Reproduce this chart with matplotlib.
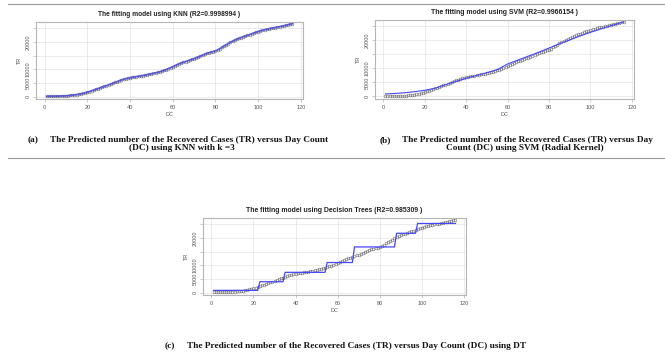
import numpy as np
import matplotlib
matplotlib.use("Agg")
import matplotlib.pyplot as plt
from matplotlib.lines import Line2D

# ---------------- data ----------------
dc = list(range(1, 117))
tr_actual = [60, 80, 90, 100, 110, 130, 150, 180, 220, 260,
             320, 390, 470, 560, 680, 820, 980, 1150, 1350, 1580,
             1820, 2080, 2350, 2620, 2900, 3180, 3450, 3720, 3980, 4250,
             4560, 4870, 5150, 5450, 5780, 6050, 6300, 6520, 6720, 6880,
             7010, 7140, 7280, 7420, 7560, 7700, 7850, 8000, 8150, 8320,
             8480, 8650, 8850, 9080, 9330, 9600, 9900, 10230, 10560, 10900,
             11280, 11650, 12000, 12300, 12580, 12830, 13080, 13330, 13600, 13900,
             14200, 14500, 14830, 15180, 15500, 15800, 16050, 16280, 16480, 16700,
             17050, 17500, 18000, 18480, 18950, 19400, 19850, 20250, 20650, 21000,
             21300, 21600, 21880, 22150, 22420, 22700, 22980, 23250, 23550, 23820,
             24050, 24250, 24450, 24630, 24800, 24970, 25130, 25280, 25430, 25580,
             25750, 25920, 26100, 26300, 26520, 26750]

knn_pred = [70, 80, 95, 100, 115, 130, 155, 185, 220, 265,
            320, 395, 470, 565, 685, 820, 985, 1155, 1360, 1585,
            1820, 2085, 2350, 2625, 2900, 3185, 3450, 3725, 3985, 4255,
            4560, 4865, 5155, 5460, 5770, 6050, 6295, 6515, 6715, 6875,
            7010, 7145, 7280, 7420, 7560, 7705, 7850, 8000, 8155, 8320,
            8485, 8655, 8860, 9085, 9335, 9605, 9905, 10235, 10565, 10905,
            11275, 11645, 11995, 12295, 12575, 12825, 13075, 13325, 13595, 13895,
            14195, 14500, 14830, 15175, 15495, 15795, 16045, 16275, 16475, 16705,
            17055, 17505, 18005, 18485, 18950, 19405, 19850, 20255, 20650, 20995,
            21295, 21595, 21875, 22145, 22420, 22695, 22975, 23245, 23545, 23815,
            24045, 24245, 24445, 24625, 24795, 24965, 25125, 25275, 25425, 25575,
            25745, 25915, 26095, 26295, 26510, 26690]

svm_dc = [1, 5, 10, 15, 20, 25, 30, 35, 40, 45, 50, 55, 60, 65, 70, 75, 80,
          85, 90, 95, 100, 105, 110, 116]
svm_pred = [900, 1050, 1300, 1700, 2200, 2950, 4200, 5400, 6500, 7500, 8500,
            9600, 11600, 13000, 14400, 15800, 17300, 18800, 20200, 21600,
            22900, 24100, 25300, 26600]

dt_levels = [800, 3950, 7400, 11000, 16700, 21700, 25300]
dt_leaf_days = [22, 12, 20, 13, 20, 10, 19]

titles = ["The fitting model using KNN (R2=0.9998994 )",
          "The fitting model using SVM (R2=0.9966154 )",
          "The fitting model using Decision Trees (R2=0.985309 )"]

x_ticks = [0, 20, 40, 60, 80, 100, 120]
y_ticks = [0, 5000, 10000, 15000, 20000, 25000]
y_tick_labels = ["0", "5000", "10000", "", "20000", ""]

# ---------------- figure ----------------
W, H = 665, 362
fig = plt.figure(figsize=(W / 100, H / 100), dpi=100)
fig.patch.set_facecolor("white")

def fx(x):
    return x / W

def fy(y):
    return 1 - y / H

def box(x0, y0, x1, y1):
    return [fx(x0), fy(y1), fx(x1) - fx(x0), fy(y0) - fy(y1)]

GRAY_TXT = "#555555"
BOX = "#b5b5b5"
BLUE = "#4646ff"
PTS = "#6a6a6a"

def style(ax, title):
    ax.set_xlim(-4, 121)
    ax.set_ylim(-900, 27300)
    ax.set_xticks(x_ticks)
    ax.set_xticklabels([str(t) for t in x_ticks])
    ax.set_yticks(y_ticks)
    ax.set_yticklabels(y_tick_labels, rotation=90, va="center")
    for s in ax.spines.values():
        s.set_color(BOX)
        s.set_linewidth(0.8)
    ax.tick_params(axis="both", colors=BOX, labelcolor=GRAY_TXT, labelsize=4,
                   length=2.5, width=0.5, pad=1.5)
    ax.grid(True, color="#e3e3e3", linewidth=0.5, linestyle="-")
    ax.set_axisbelow(True)
    ax.set_xlabel("DC", fontsize=4, color=GRAY_TXT, labelpad=1.5,
                  family="Liberation Sans")
    ax.set_ylabel("TR", fontsize=4, color=GRAY_TXT, labelpad=2.5,
                  family="Liberation Sans")
    for lab in ax.get_xticklabels() + ax.get_yticklabels():
        lab.set_family("Liberation Sans")
    t = ax.set_title(title, fontsize=4.2, fontweight="bold", color="#222222",
                     pad=4, family="Liberation Sans")
    return t

def points(ax):
    ax.plot(dc, tr_actual, linestyle="none", marker="o", markersize=2.0,
            markerfacecolor="none", markeredgecolor=PTS, markeredgewidth=0.4)

# (a) KNN
ax1 = fig.add_axes(box(36, 22, 303, 99))
points(ax1)
ax1.plot(dc, knn_pred, color="#4b4bdc", linewidth=1.3, alpha=0.85)
t1 = style(ax1, titles[0])

# (b) SVM
ax2 = fig.add_axes(box(375, 20, 634, 99))
points(ax2)
ax2.plot(svm_dc, svm_pred, color=BLUE, linewidth=0.8)
t2 = style(ax2, titles[1])

# (c) Decision tree
ax3 = fig.add_axes(box(203, 218, 466, 295))
points(ax3)
dt_pred = np.repeat(dt_levels, dt_leaf_days)
ax3.plot(dc, dt_pred, color=BLUE, linewidth=0.9)
t3 = style(ax3, titles[2])

# horizontal rules
for yy in (4, 158):
    fig.add_artist(Line2D([fx(8), fx(665)], [fy(yy), fy(yy)],
                          color="#9a9a9a", linewidth=0.8))

# captions
cap_kw = dict(family="Liberation Serif", fontweight="bold", color="#111111",
              fontsize=6, va="center")
texts = []
texts.append((fig.text(fx(28), fy(140), "(a)", ha="left", **cap_kw), None))
texts.append((fig.text(fx(50), fy(140),
              "The Predicted number of the Recovered Cases (TR) versus Day Count",
              ha="left", **cap_kw), 277))
texts.append((fig.text(fx(182), fy(148.5), "(DC) using KNN with k =3",
              ha="center", **cap_kw), None))
texts.append((fig.text(fx(380), fy(140), "(b)", ha="left", **cap_kw), None))
texts.append((fig.text(fx(402), fy(140),
              "The Predicted number of the Recovered Cases (TR) versus Day",
              ha="left", **cap_kw), 253))
texts.append((fig.text(fx(525), fy(148.5), "Count (DC) using SVM (Radial Kernel)",
              ha="center", **cap_kw), None))
texts.append((fig.text(fx(165), fy(346), "(c)", ha="left", **cap_kw), None))
texts.append((fig.text(fx(187), fy(346),
              "The Predicted number of the Recovered Cases (TR) versus Day Count (DC) using DT",
              ha="left", **cap_kw), 341))

fig.canvas.draw()
r = fig.canvas.get_renderer()
scale = None
for t, target in texts:
    if target is not None:
        w = t.get_window_extent(r).width
        scale = target / w
        break
for t, _ in texts:
    t.set_fontsize(t.get_fontsize() * scale)

# fit plot titles to measured widths
for t, target in ((t1, 143), (t2, 149), (t3, 178)):
    w = t.get_window_extent(r).width
    t.set_fontsize(t.get_fontsize() * target / w)

fig.savefig("out.png", dpi=100, facecolor="white")
